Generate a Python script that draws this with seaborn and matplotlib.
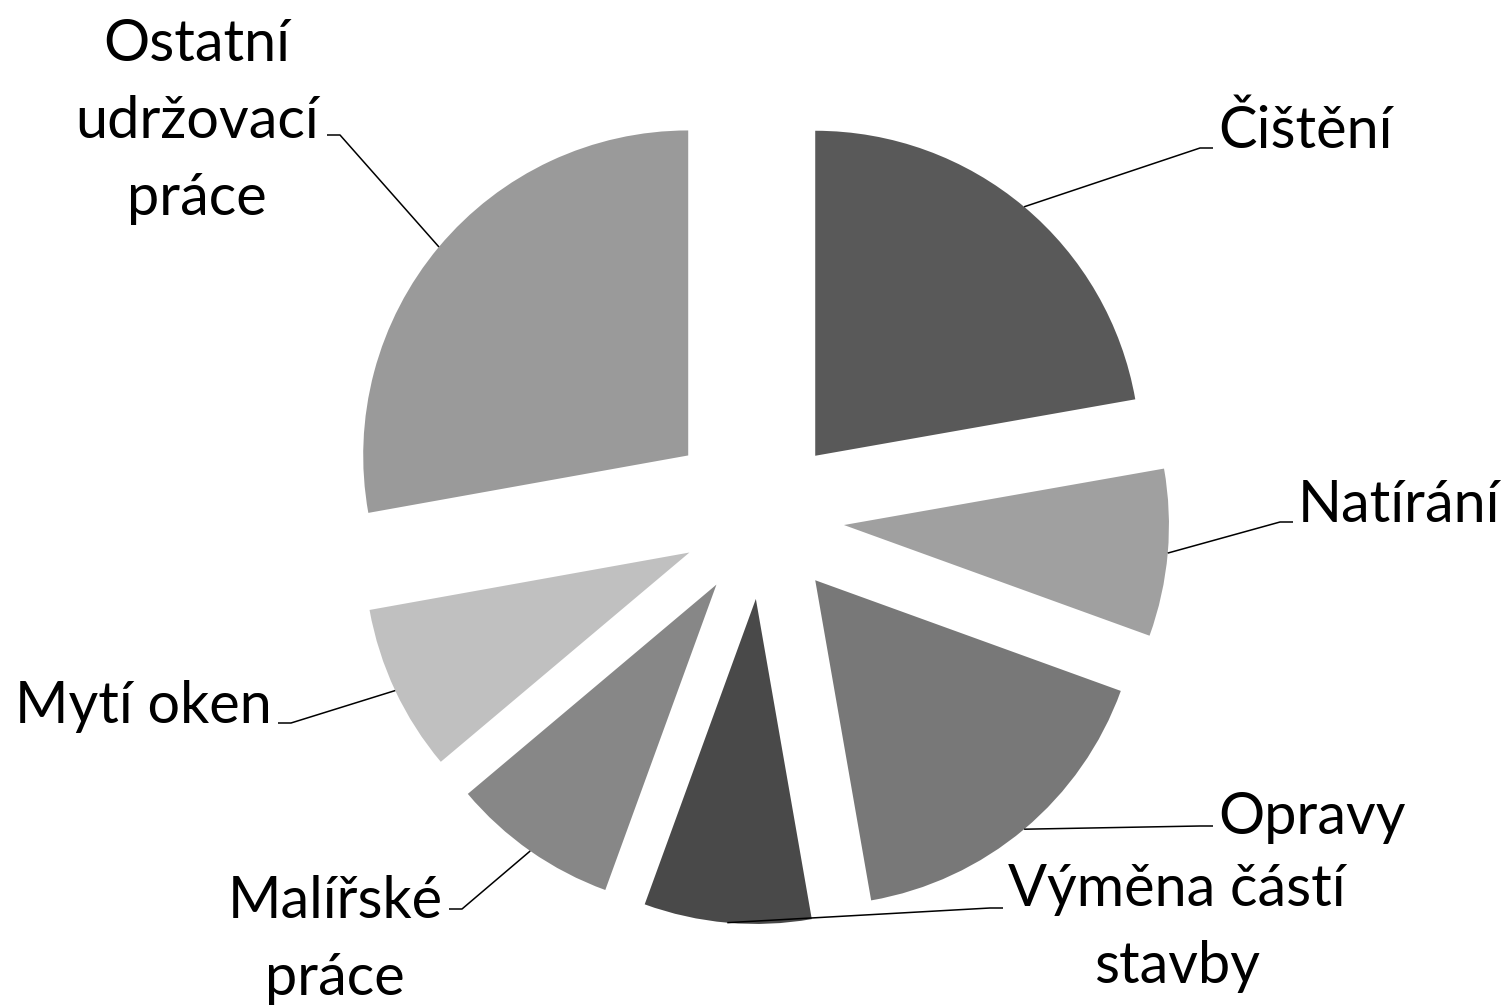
import numpy as np
import matplotlib
matplotlib.use("Agg")
import matplotlib.pyplot as plt
import seaborn as sns

# data
categories = ["Čištění", "Natírání", "Opravy", "Výměna částí\nstavby",
              "Malířské\npráce", "Mytí oken", "Ostatní\nudržovací\npráce"]
shares = [22.2, 8.3, 16.7, 8.3, 8.3, 8.3, 27.8]
grays = ["#595959", "#a0a0a0", "#787878", "#494949", "#878787", "#c0c0c0", "#9a9a9a"]
explode = [0.25, 0.25, 0.25, 0.25, 0.25, 0.25, 0.30]

sns.set_theme(style="white")
plt.rcParams["font.family"] = ["Lato", "DejaVu Sans"]

W, H, DPI = 1509, 1006, 100
R_PX = 325          # pie radius in pixels
CX, CY = 763, 518   # pie centre in pixels
FS = 41.5
LINE_GAP = 77


def px(x, y):
    # pixel position -> data coords (radius 1 == R_PX pixels)
    return (x - CX) / R_PX, (CY - y) / R_PX


# label layout: elbow of leader (px), text x (px), alignment, baseline of last line (px)
label_layout = [
    ((1200, 148), 1218, "left", 148),
    ((1280, 522), 1298, "left", 522),
    ((1200, 826), 1218, "left", 834),
    ((990, 908), 1177, "center", 983),
    ((462, 909), 335, "center", 995),
    ((291, 723), 272, "right", 723),
    ((340, 135), 197, "center", 215),
]

fig = plt.figure(figsize=(W / DPI, H / DPI), dpi=DPI)
ax = fig.add_axes([0, 0, 1, 1])
wedges, _ = ax.pie(shares, colors=grays, explode=explode, startangle=90,
                   counterclock=False, radius=1, wedgeprops=dict(linewidth=0))
ax.set_aspect("auto")
ax.set_xlim(px(0, 0)[0], px(W, 0)[0])
ax.set_ylim(px(0, H)[1], px(0, 0)[1])
ax.axis("off")

for w, label, (elbow, tx, ha, base) in zip(wedges, categories, label_layout):
    mid = np.deg2rad((w.theta1 + w.theta2) / 2)
    x0 = w.center[0] + w.r * np.cos(mid)
    y0 = w.center[1] + w.r * np.sin(mid)
    ex, ey = px(*elbow)
    stub = 13 if tx > elbow[0] else -13
    sx, _ = px(elbow[0] + stub, elbow[1])
    ax.plot([x0, ex, sx], [y0, ey, ey], color="black", lw=1.1, solid_capstyle="butt")
    lines = label.split("\n")
    n = len(lines)
    for i, line in enumerate(lines):
        lx, ly = px(tx, base - (n - 1 - i) * LINE_GAP)
        ax.text(lx, ly, line, ha=ha, va="baseline", fontsize=FS, color="black")

fig.savefig("out.png", dpi=DPI, facecolor="white")
